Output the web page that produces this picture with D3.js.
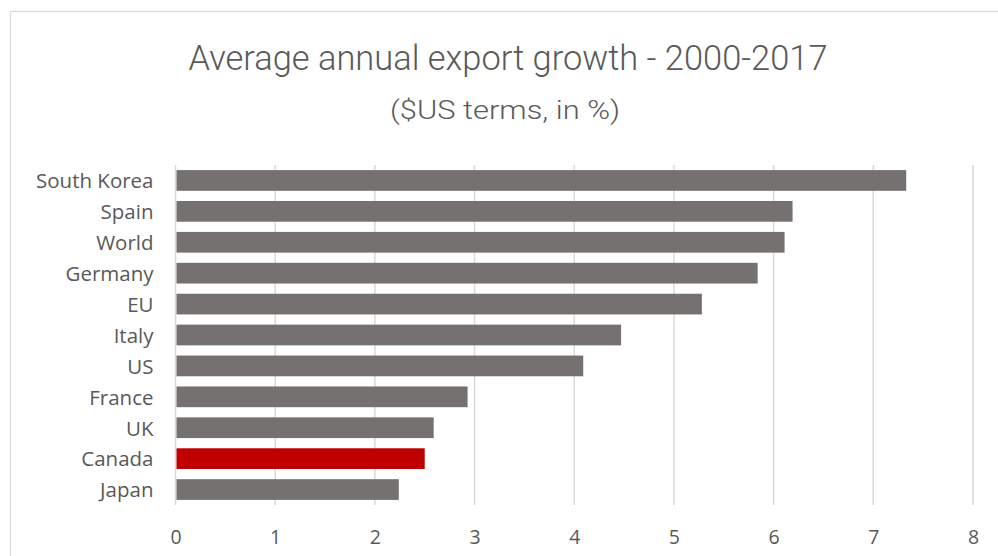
<!DOCTYPE html>
<html>
<head>
<meta charset="utf-8">
<script src="https://cdn.jsdelivr.net/npm/d3@7"></script>
<style>
  html, body { margin: 0; padding: 0; background: #fff; }
  svg { display: block; }
</style>
</head>
<body>
<svg id="chart" width="998" height="556"></svg>
<script>
// Average annual export growth 2000-2017, $US terms, in %
const countries = ["South Korea", "Spain", "World ", "Germany", "EU", "Italy", "US", "France", "UK", "Canada", "Japan"];
const growth = [7.33, 6.19, 6.11, 5.84, 5.28, 4.47, 4.09, 2.93, 2.59, 2.50, 2.24];
const highlighted = ["Canada"];
const xTicks = [0, 1, 2, 3, 4, 5, 6, 7, 8];
const titleText = "Average annual export growth - 2000-2017";
const subtitleText = "($US terms, in %)";

const rows = countries.map((c, i) => ({ name: c, value: growth[i] }));

const svg = d3.select("#chart");
const width = 998, height = 556;
const margin = { top: 165, right: 25, bottom: 51, left: 175.5 };

// chart area frame
svg.append("rect")
  .attr("x", 10.5).attr("y", 11.5)
  .attr("width", 1100).attr("height", 700)
  .attr("fill", "#fff")
  .attr("stroke", "#d9d9d9")
  .attr("stroke-width", 1.2);

const x = d3.scaleLinear().domain([0, 8]).range([margin.left, 973]);
const y = d3.scaleBand()
  .domain(countries)
  .range([margin.top, height - margin.bottom])
  .paddingInner(0.33)
  .paddingOuter(0.165);

// vertical gridlines
svg.append("g")
  .selectAll("line")
  .data(xTicks)
  .join("line")
  .attr("x1", d => x(d)).attr("x2", d => x(d))
  .attr("y1", margin.top).attr("y2", height - margin.bottom)
  .attr("stroke", "#d9d9d9")
  .attr("stroke-width", 1.5);

// bars
svg.append("g")
  .selectAll("rect")
  .data(rows)
  .join("rect")
  .attr("x", x(0) + 1)
  .attr("y", d => y(d.name))
  .attr("width", d => x(d.value) - x(0) - 1)
  .attr("height", y.bandwidth())
  .attr("fill", d => highlighted.includes(d.name) ? "#c00000" : "#767171");

// category axis
const yAxis = svg.append("g")
  .attr("transform", `translate(${margin.left - 22},0)`)
  .call(d3.axisLeft(y).tickSize(0).tickPadding(0));
yAxis.select(".domain").remove();
yAxis.selectAll("text")
  .attr("fill", "#595959")
  .style("font-family", "'Open Sans', sans-serif")
  .style("font-size", "20.5px")
  .attr("dy", "0.38em");

// value axis
const xAxis = svg.append("g")
  .attr("transform", `translate(0,${height - margin.bottom})`)
  .call(d3.axisBottom(x).tickValues(xTicks).tickSize(0).tickPadding(0).tickFormat(d3.format("d")));
xAxis.select(".domain").remove();
xAxis.selectAll("text")
  .attr("fill", "#595959")
  .attr("y", 32)
  .attr("dy", "0.36em")
  .style("font-family", "'Open Sans', sans-serif")
  .style("font-size", "19.5px");

// titles
svg.append("text")
  .attr("x", 508).attr("y", 70)
  .attr("text-anchor", "middle")
  .attr("fill", "#595959")
  .attr("textLength", 639)
  .attr("lengthAdjust", "spacingAndGlyphs")
  .style("font-family", "Roboto, sans-serif")
  .style("font-weight", 300)
  .style("font-size", "35px")
  .text(titleText);

svg.append("text")
  .attr("x", 505).attr("y", 119)
  .attr("text-anchor", "middle")
  .attr("fill", "#595959")
  .attr("textLength", 230)
  .attr("lengthAdjust", "spacingAndGlyphs")
  .style("font-family", "Roboto, sans-serif")
  .style("font-weight", 300)
  .style("font-size", "26px")
  .text(subtitleText);
</script>
</body>
</html>
